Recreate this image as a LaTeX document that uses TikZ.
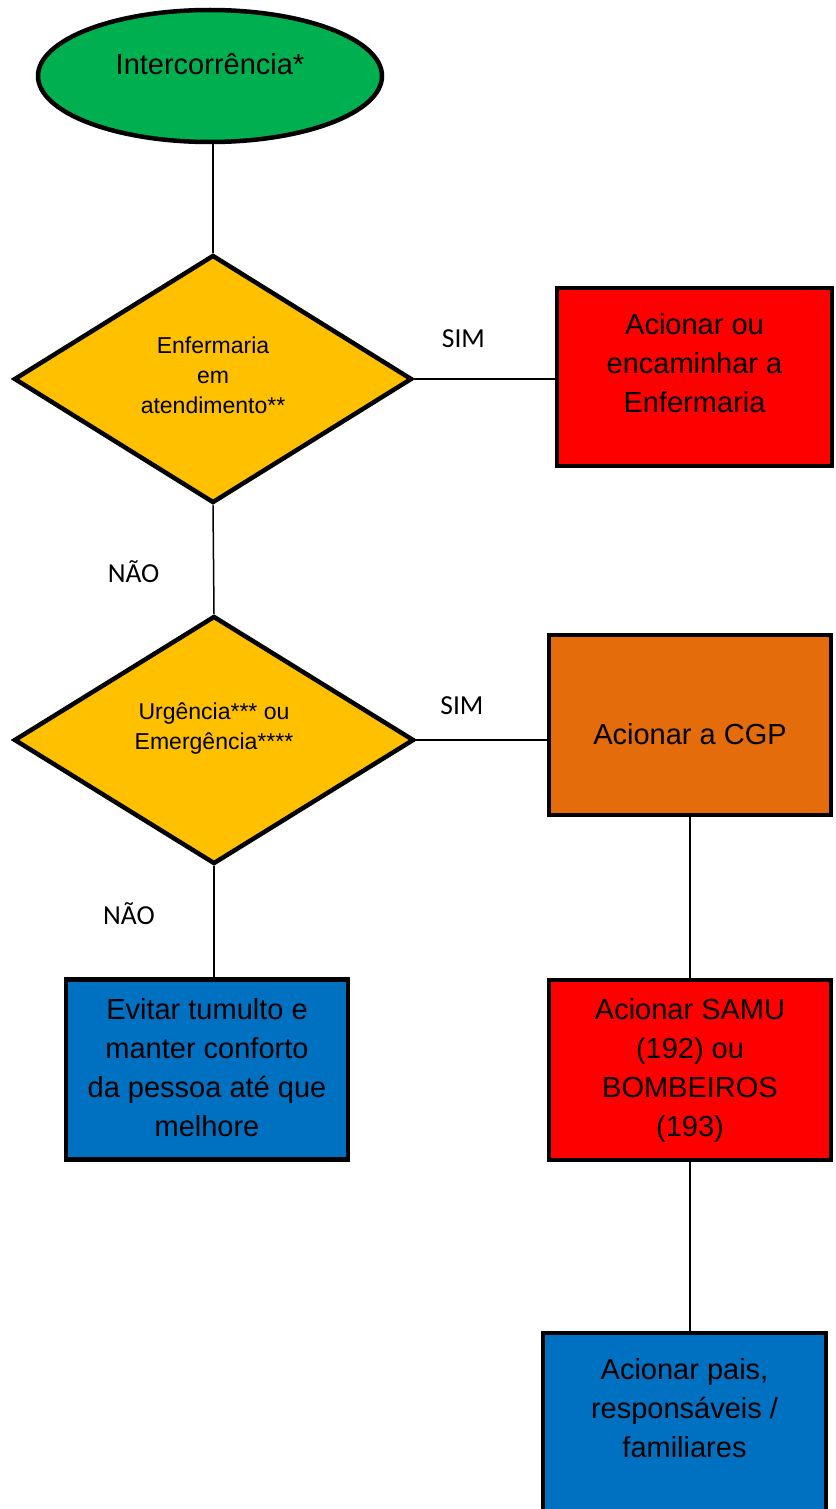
\documentclass[tikz,border=0pt]{standalone}
\usepackage{fontspec}
\setmainfont{Liberation Sans}
\newfontfamily\calib{Carlito}
\usetikzlibrary{shapes.geometric}
\definecolor{verde}{HTML}{00B050}
\definecolor{amarelo}{HTML}{FFC000}
\definecolor{vermelho}{HTML}{FF0000}
\definecolor{laranja}{HTML}{E46C0A}
\definecolor{azul}{HTML}{0070C0}
\newcommand{\txt}[2]{\raisebox{#1}[0pt][0pt]{\begin{tabular}{@{}c@{}}#2\end{tabular}}}

\begin{document}
\begin{tikzpicture}[x=1pt,y=-1pt,
  forma/.style={draw,line width=4.5pt,inner sep=0pt,font=\fontsize{29}{39}\selectfont},
  caixa/.style={forma,rectangle,minimum width=282pt,minimum height=180pt},
  losango/.style={forma,diamond,minimum width=398pt,minimum height=248pt,font=\fontsize{23}{30}\selectfont},
  rotulo/.style={font=\calib\fontsize{27.5}{30}\selectfont},
  liga/.style={line width=1.5pt}]

\useasboundingbox (0,0) rectangle (835,1509);

\node[forma,ellipse,fill=verde,minimum width=344pt,minimum height=132pt] (inicio) at (210,76) {\txt{3pt}{Intercorrência*}};

\node[losango,fill=amarelo] (enf) at (213,379) {\txt{-5pt}{Enfermaria\\em\\atendimento**}};
\node[caixa,fill=vermelho,minimum width=275pt,minimum height=178pt] (encam) at (694.5,377) {\txt{5pt}{Acionar ou\\encaminhar a\\Enfermaria}};

\node[losango,fill=amarelo,minimum width=400pt] (urg) at (214,740) {\txt{5pt}{Urgência*** ou\\Emergência****}};
\node[caixa,fill=laranja] (cgp) at (690,725) {\txt{-18pt}{Acionar a CGP}};

\node[caixa,fill=vermelho] (samu) at (690,1070) {\txt{-6pt}{Acionar SAMU\\(192) ou\\BOMBEIROS\\(193)}};
\node[caixa,fill=azul,minimum width=283pt] (pais) at (684.5,1423) {\txt{6pt}{Acionar pais,\\responsáveis /\\familiares}};
\node[caixa,fill=azul] (evitar) at (207,1069.5) {\txt{-7pt}{Evitar tumulto e\\manter conforto\\da pessoa até que\\melhore}};

\draw[liga] (enf.north |- inicio.south) -- (enf.north);
\draw[liga] (enf.east) -- node[rotulo,pos=0.35,yshift=40pt]{SIM} (enf.east -| encam.west);
\draw[liga] (enf.south) -- node[rotulo,pos=0.61,xshift=-80pt]{NÃO} (urg.north);
\draw[liga] (urg.east) -- node[rotulo,pos=0.35,yshift=34pt]{SIM} (urg.east -| cgp.west);
\draw[liga] (urg.south) -- node[rotulo,pos=0.43,xshift=-85pt]{NÃO} (urg.south |- evitar.north);
\draw[liga] (cgp.south) -- (samu.north);
\draw[liga] (samu.south) -- (samu.south |- pais.north);

\end{tikzpicture}
\end{document}
